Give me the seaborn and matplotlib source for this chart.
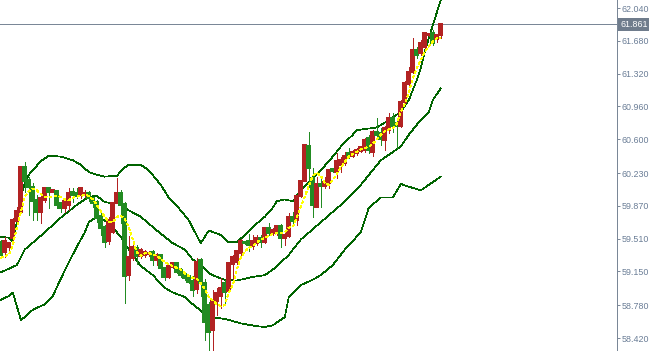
import numpy as np
import pandas as pd
import seaborn as sns
import matplotlib
matplotlib.use("Agg")
import matplotlib.pyplot as plt

# candles (bar number = position in list)
candle_open = [59.47, 59.36, 59.42, 59.52, 59.70, 59.80, 60.30, 60.15, 60.08, 59.93,
               59.80, 59.93, 60.07, 60.02, 60.03, 59.90, 59.85, 59.88, 60.02, 60.01,
               59.99, 59.99, 60.01, 59.96, 59.91, 59.76, 59.64, 59.48, 59.58, 59.90,
               60.01, 59.89, 59.11, 59.30, 59.41, 59.32, 59.33, 59.34, 59.36, 59.28,
               59.33, 59.19, 59.09, 59.20, 59.24, 59.17, 59.12, 59.10, 59.05, 58.96,
               59.28, 59.02, 58.78, 58.51, 58.83, 58.88, 59.02, 58.94, 59.23, 59.25,
               59.35, 59.47, 59.48, 59.43, 59.46, 59.52, 59.47, 59.63, 59.57, 59.57,
               59.65, 59.52, 59.54, 59.75, 59.71, 59.98, 60.14, 60.53, 60.18, 59.86,
               60.11, 60.09, 60.12, 60.27, 60.24, 60.32, 60.34, 60.45, 60.42, 60.45,
               60.47, 60.48, 60.61, 60.46, 60.68, 60.67, 60.59, 60.70, 60.83, 60.78,
               60.75, 61.01, 61.21, 61.34, 61.58, 61.55, 61.61, 61.74, 61.77, 61.70,
               61.74]
candle_high = [59.50, 59.53, 59.47, 59.74, 59.86, 60.31, 60.35, 60.19, 60.12, 59.99,
               59.99, 60.07, 60.08, 60.04, 60.03, 59.91, 59.96, 60.07, 60.07, 60.07,
               60.08, 60.04, 60.03, 59.97, 59.93, 59.79, 59.66, 59.75, 59.91, 60.18,
               60.04, 59.91, 59.54, 59.44, 59.44, 59.41, 59.39, 59.37, 59.38, 59.35,
               59.34, 59.20, 59.22, 59.25, 59.25, 59.19, 59.13, 59.11, 59.10, 59.30,
               59.30, 59.07, 58.82, 58.95, 58.97, 59.08, 59.06, 59.24, 59.33, 59.39,
               59.51, 59.48, 59.56, 59.55, 59.55, 59.55, 59.64, 59.68, 59.63, 59.65,
               59.67, 59.58, 59.79, 59.80, 59.99, 60.15, 60.54, 60.68, 60.29, 60.19,
               60.19, 60.19, 60.27, 60.28, 60.45, 60.41, 60.46, 60.50, 60.48, 60.50,
               60.53, 60.61, 60.65, 60.70, 60.83, 60.72, 60.75, 60.89, 60.89, 60.83,
               61.03, 61.24, 61.39, 61.71, 61.61, 61.69, 61.78, 61.77, 61.80, 61.76,
               61.88]
candle_low = [59.31, 59.31, 59.39, 59.47, 59.69, 59.79, 60.02, 59.77, 59.71, 59.71,
              59.68, 59.91, 59.85, 60.02, 59.85, 59.80, 59.80, 59.82, 59.91, 59.96,
              59.96, 59.97, 59.92, 59.86, 59.69, 59.55, 59.42, 59.45, 59.57, 59.90,
              59.68, 58.80, 59.06, 59.28, 59.23, 59.30, 59.31, 59.32, 59.22, 59.22,
              59.09, 59.06, 59.08, 59.19, 59.13, 59.09, 59.06, 59.02, 58.88, 58.91,
              58.88, 58.40, 58.29, 58.29, 58.67, 58.75, 58.78, 58.92, 59.02, 59.23,
              59.32, 59.45, 59.37, 59.40, 59.44, 59.42, 59.46, 59.55, 59.55, 59.55,
              59.42, 59.44, 59.53, 59.66, 59.66, 59.97, 60.14, 60.08, 59.75, 59.86,
              59.86, 60.07, 60.07, 60.24, 60.18, 60.24, 60.32, 60.39, 60.41, 60.43,
              60.46, 60.46, 60.45, 60.42, 60.62, 60.54, 60.48, 60.67, 60.68, 60.50,
              60.73, 61.00, 61.20, 61.33, 61.49, 61.52, 61.60, 61.73, 61.63, 61.67,
              61.71]
candle_close = [59.33, 59.48, 59.46, 59.71, 59.81, 60.30, 60.14, 60.08, 59.92, 59.80,
                59.96, 60.07, 60.02, 60.04, 59.88, 59.85, 59.92, 60.01, 59.99, 59.98,
                60.07, 60.01, 59.96, 59.90, 59.74, 59.63, 59.47, 59.71, 59.90, 60.01,
                59.88, 59.10, 59.31, 59.42, 59.32, 59.39, 59.36, 59.35, 59.28, 59.33,
                59.19, 59.09, 59.21, 59.24, 59.14, 59.11, 59.08, 59.03, 58.95, 59.25,
                59.02, 58.60, 58.49, 58.84, 58.91, 58.97, 58.92, 59.24, 59.31, 59.37,
                59.48, 59.46, 59.44, 59.48, 59.52, 59.47, 59.63, 59.57, 59.60, 59.65,
                59.52, 59.55, 59.75, 59.70, 59.98, 60.14, 60.54, 60.29, 59.88, 60.11,
                60.09, 60.13, 60.26, 60.25, 60.36, 60.37, 60.42, 60.42, 60.46, 60.48,
                60.52, 60.59, 60.48, 60.68, 60.65, 60.60, 60.72, 60.83, 60.75, 60.75,
                61.01, 61.22, 61.34, 61.58, 61.52, 61.66, 61.77, 61.75, 61.66, 61.74,
                61.861]

# bollinger bands, read at some bars
upper_bar = [0, 2, 3, 4, 5, 6, 7, 8, 10, 12, 15, 18, 20, 22, 24, 26, 29, 31, 32, 35,
             37, 40, 42, 45, 47, 50, 52, 55, 57, 59, 61, 63, 66, 68, 69, 71, 73, 75,
             78, 80, 83, 85, 88, 89, 94, 97, 100, 102, 104, 105, 106, 107, 108, 109, 110]
upper_val = [59.53, 59.52, 59.47, 59.69, 59.96, 60.12, 60.21, 60.26, 60.36, 60.42,
             60.41, 60.37, 60.32, 60.24, 60.21, 60.19, 60.20, 60.29, 60.32, 60.32,
             60.26, 60.10, 59.96, 59.82, 59.71, 59.46, 59.60, 59.55, 59.47, 59.47,
             59.55, 59.64, 59.75, 59.85, 59.92, 59.94, 59.92, 60.04, 60.18, 60.26,
             60.41, 60.52, 60.65, 60.70, 60.73, 60.81, 60.90, 61.03, 61.25, 61.38,
             61.56, 61.71, 61.85, 61.99, 62.13]
mid_bar = [0, 4, 6, 11, 15, 19, 22, 24, 26, 28, 30, 32, 35, 39, 43, 46, 48, 50, 52,
           54, 56, 59, 61, 63, 66, 68, 70, 72, 73, 75, 80, 85, 90, 95, 100, 102, 104,
           107, 108, 110]
mid_val = [59.14, 59.22, 59.39, 59.58, 59.74, 59.88, 59.97, 59.98, 59.91, 59.90,
           59.90, 59.82, 59.75, 59.60, 59.46, 59.39, 59.28, 59.23, 59.13, 59.09,
           59.06, 59.05, 59.07, 59.09, 59.11, 59.17, 59.25, 59.33, 59.39, 59.50,
           59.69, 59.88, 60.10, 60.37, 60.52, 60.65, 60.76, 60.90, 61.03, 61.16]
lower_bar = [0, 2, 3, 4, 5, 6, 8, 11, 13, 15, 17, 19, 21, 22, 24, 26, 28, 30, 32, 35,
             38, 41, 43, 46, 48, 52, 56, 60, 64, 66, 68, 71, 72, 75, 78, 80, 83, 86,
             90, 92, 95, 98, 100, 102, 105, 107, 110]
lower_val = [58.84, 58.88, 58.92, 58.77, 58.62, 58.65, 58.73, 58.79, 58.88, 59.07,
             59.25, 59.42, 59.58, 59.69, 59.75, 59.71, 59.63, 59.53, 59.39, 59.21,
             59.11, 58.97, 58.92, 58.87, 58.79, 58.65, 58.63, 58.58, 58.55, 58.54,
             58.56, 58.65, 58.87, 59.00, 59.06, 59.11, 59.22, 59.39, 59.58, 59.85,
             59.96, 59.96, 60.11, 60.08, 60.04, 60.10, 60.19]

# fast moving average (yellow, one value per bar)
fast_ma = [59.30, 59.32, 59.33, 59.44, 59.63, 59.80, 59.97, 60.03, 60.06, 60.04,
           60.00, 59.97, 59.96, 59.97, 59.98, 59.97, 59.94, 59.93, 59.96, 59.97,
           59.98, 59.99, 59.98, 59.94, 59.88, 59.81, 59.75, 59.69, 59.69, 59.75,
           59.76, 59.73, 59.63, 59.50, 59.36, 59.32, 59.35, 59.35, 59.34, 59.32,
           59.29, 59.25, 59.23, 59.21, 59.19, 59.17, 59.13, 59.10, 59.08, 59.07,
           59.02, 58.96, 58.87, 58.83, 58.79, 58.77, 58.78, 58.92, 59.00, 59.17,
           59.30, 59.37, 59.41, 59.43, 59.47, 59.50, 59.52, 59.54, 59.56, 59.57,
           59.57, 59.58, 59.63, 59.64, 59.74, 59.86, 59.97, 60.09, 60.20, 60.23,
           60.20, 60.12, 60.10, 60.15, 60.22, 60.29, 60.35, 60.41, 60.44, 60.46,
           60.49, 60.50, 60.52, 60.55, 60.60, 60.65, 60.69, 60.71, 60.72, 60.77,
           60.90, 60.99, 61.11, 61.27, 61.38, 61.47, 61.56, 61.62, 61.67, 61.71,
           61.71]

price_ticks = [62.040, 61.680, 61.320, 60.960, 60.600, 60.230,
               59.870, 59.510, 59.150, 58.780, 58.420]
last_price = 61.861

sns.set_style("white")
plt.rcParams['font.family'] = ['Liberation Sans', 'DejaVu Sans']
plt.rcParams['lines.antialiased'] = False
plt.rcParams['patch.antialiased'] = False

candles = pd.DataFrame({"open": candle_open, "high": candle_high,
                        "low": candle_low, "close": candle_close})
candles["bar"] = np.arange(len(candles))
up = candles["close"] >= candles["open"]
candles["color"] = np.where(up, "#b22222", "#228b22")

fig = plt.figure(figsize=(6.51, 3.51), dpi=100)
ax = fig.add_axes([0, 0, 617 / 651, 1])

# bands
band_color = "#006400"
for bars, vals in [(upper_bar, upper_val), (mid_bar, mid_val), (lower_bar, lower_val)]:
    sns.lineplot(x=bars, y=vals, ax=ax, color=band_color, linewidth=0.5, zorder=1)

# wicks and bodies
ax.vlines(candles["bar"], candles["low"], candles["high"],
          colors=candles["color"], linewidth=0.6, zorder=2)
ax.bar(candles["bar"], candles["close"] - candles["open"], bottom=candles["open"],
       width=0.7, color=candles["color"], edgecolor=candles["color"],
       linewidth=0.3, zorder=3)

sns.lineplot(x=candles["bar"].to_numpy(), y=fast_ma, ax=ax, color="#ffff00",
             linewidth=0.6, linestyle=(0, (3, 3)), zorder=4)

# current price line
ax.axhline(last_price, color="#7a8797", linewidth=0.7, zorder=0)

ax.set_xlim(-0.2, 154.05)
ax.set_ylim(58.2775, 62.128)
ax.set_xlabel("")
ax.set_ylabel("")
ax.set_xticks([])
ax.set_yticks(price_ticks)
ax.set_yticklabels([f"{v:.3f}" for v in price_ticks])
ax.yaxis.tick_right()
ax.tick_params(axis="y", direction="out", length=2.5, width=0.7, pad=1,
               colors="#7a8797", labelcolor="#6a7d96", labelsize=6.4)
for side in ["top", "left", "bottom"]:
    ax.spines[side].set_visible(False)
ax.spines["right"].set_color("#7a8797")
ax.spines["right"].set_linewidth(0.7)

ax.annotate(f"{last_price:.3f}", xy=(1.0, last_price),
            xycoords=("axes fraction", "data"), xytext=(2.2, 0),
            textcoords="offset points", va="center", ha="left",
            fontsize=6.4, color="white",
            bbox=dict(boxstyle="square,pad=0.2", facecolor="#6f7c8c", edgecolor="none"))

fig.savefig("out.png", dpi=100)
